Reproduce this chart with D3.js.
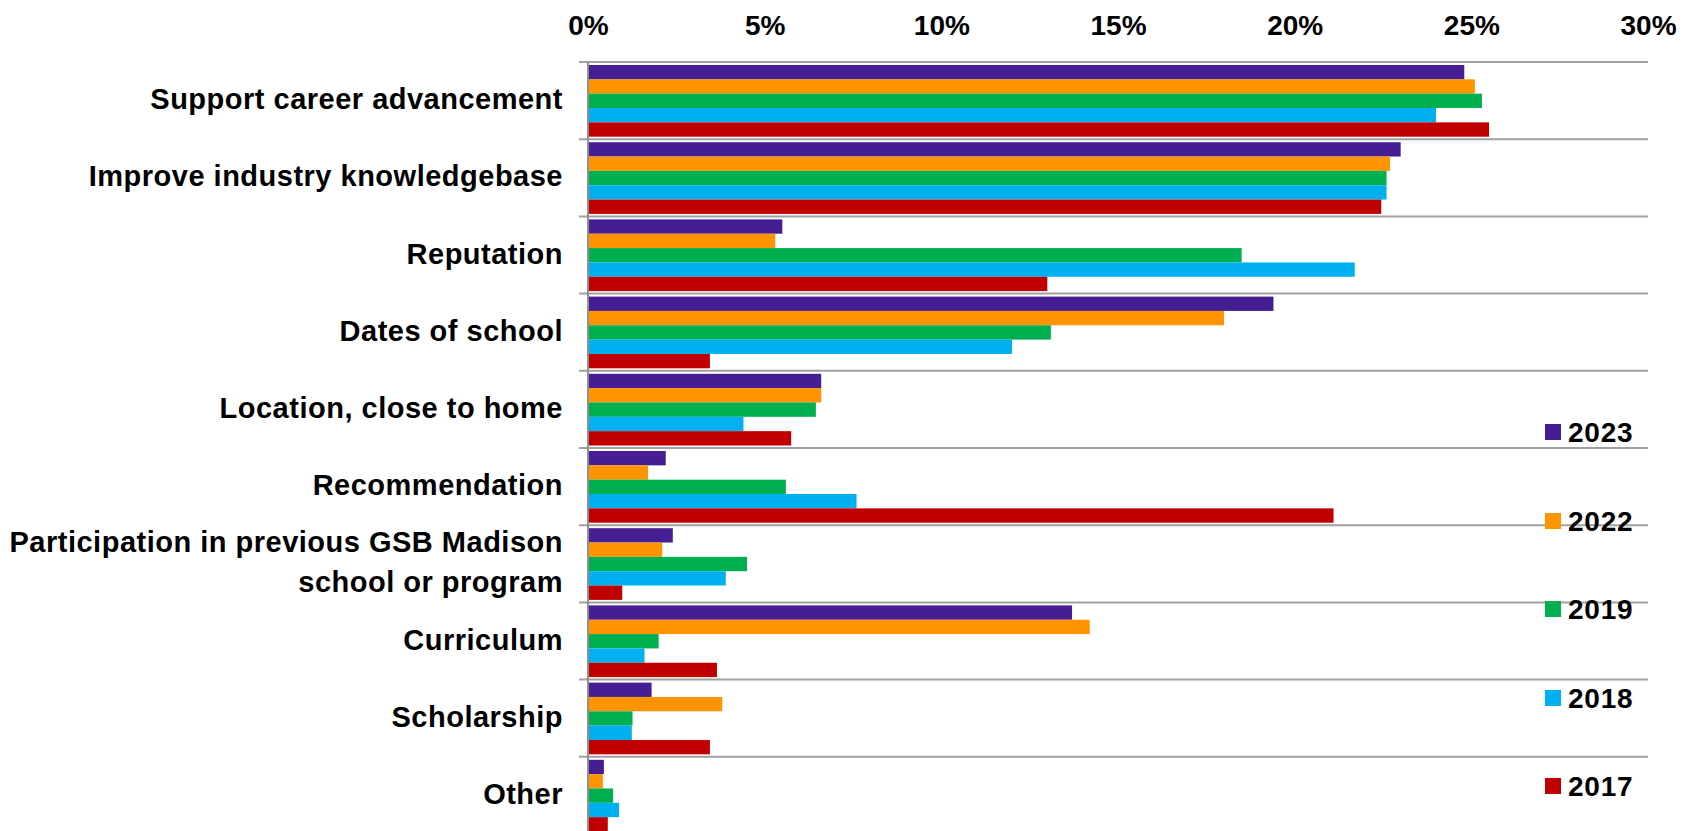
<!DOCTYPE html>
<html>
<head>
<meta charset="utf-8">
<script src="https://cdn.jsdelivr.net/npm/d3@7"></script>
<style>
  html, body { margin: 0; padding: 0; background: #fff; overflow: hidden; }
  svg { display: block; font-family: "Liberation Sans", Arial, sans-serif; font-weight: bold; }
</style>
</head>
<body>
<svg id="chart" width="1696" height="831"></svg>
<script>
// ---- data ----
const categories = [
  "Support career advancement",
  "Improve industry knowledgebase",
  "Reputation",
  "Dates of school",
  "Location, close to home",
  "Recommendation",
  "Participation in previous GSB Madison|school or program",
  "Curriculum",
  "Scholarship",
  "Other"
];
const seriesNames = ["2023", "2022", "2019", "2018", "2017"];
const seriesColors = ["#451e93", "#ff9300", "#00b050", "#00b0f0", "#c00000"];
const v2023 = [24.8, 23.0, 5.5, 19.4, 6.6, 2.2, 2.4, 13.7, 1.8, 0.45];
const v2022 = [25.1, 22.7, 5.3, 18.0, 6.6, 1.7, 2.1, 14.2, 3.8, 0.42];
const v2019 = [25.3, 22.6, 18.5, 13.1, 6.45, 5.6, 4.5, 2.0, 1.26, 0.71];
const v2018 = [24.0, 22.6, 21.7, 12.0, 4.4, 7.6, 3.9, 1.6, 1.24, 0.88];
const v2017 = [25.5, 22.45, 13.0, 3.45, 5.75, 21.1, 0.97, 3.65, 3.45, 0.56];
const xTicks = [0, 5, 10, 15, 20, 25, 30];

const seriesValues = [v2023, v2022, v2019, v2018, v2017];

// ---- layout ----
const svg = d3.select("#chart");
const x = d3.scaleLinear().domain([0, 30]).range([588, 1648]);
const y = d3.scaleBand().domain(categories).range([62, 834]).paddingInner(0).paddingOuter(0);
const inner = d3.scaleBand().domain(seriesNames)
  .range([3, y.bandwidth() - 2.5]).paddingInner(0);
const color = d3.scaleOrdinal().domain(seriesNames).range(seriesColors);

// separators / gridlines
const bounds = categories.map(c => y(c)).concat([y(categories[categories.length - 1]) + y.bandwidth()]);
svg.append("g").selectAll("line").data(bounds).join("line")
  .attr("x1", x(0) - 9).attr("x2", x(30))
  .attr("y1", d => d).attr("y2", d => d)
  .attr("stroke", "#a0a0a0").attr("stroke-width", 2);

// bars
const rows = [];
categories.forEach((c, i) => {
  seriesNames.forEach((s, j) => rows.push({ cat: c, series: s, value: seriesValues[j][i] }));
});
svg.append("g").selectAll("rect").data(rows).join("rect")
  .attr("x", x(0))
  .attr("y", d => y(d.cat) + inner(d.series))
  .attr("width", d => x(d.value) - x(0))
  .attr("height", inner.bandwidth())
  .attr("fill", d => color(d.series));

// vertical axis line
svg.append("line")
  .attr("x1", x(0)).attr("x2", x(0))
  .attr("y1", y.range()[0]).attr("y2", y.range()[1])
  .attr("stroke", "#909090").attr("stroke-width", 2);

// top axis labels
const xAxis = d3.axisTop(x).tickValues(xTicks).tickSize(0).tickPadding(0)
  .tickFormat(d => d + "%");
const gx = svg.append("g").attr("transform", "translate(0,35)").call(xAxis);
gx.select(".domain").remove();
gx.selectAll("text")
  .attr("font-family", "'Liberation Sans', Arial, sans-serif")
  .attr("font-weight", "bold")
  .attr("font-size", 28)
  .attr("fill", "#000");

// category labels
const lab = svg.append("g").selectAll("text").data(categories).join("text")
  .attr("text-anchor", "end")
  .attr("font-size", 29)
  .attr("letter-spacing", 0.5)
  .attr("fill", "#000")
  .attr("transform", d => `translate(563, ${y(d) + y.bandwidth() / 2 - 2})`);
lab.each(function(d) {
  const lines = d.split("|");
  const t = d3.select(this);
  const lh = 40;
  lines.forEach((ln, k) => {
    t.append("tspan")
      .attr("x", 0)
      .attr("y", (k - (lines.length - 1) / 2) * lh + 10.5)
      .text(ln);
  });
});

// legend
const legendY = [432, 521, 609, 698, 786];
const lg = svg.append("g").selectAll("g").data(seriesNames).join("g")
  .attr("transform", (d, i) => `translate(1545, ${legendY[i]})`);
lg.append("rect").attr("x", 0).attr("y", -8).attr("width", 16).attr("height", 16)
  .attr("fill", d => color(d));
lg.append("text").attr("x", 23).attr("y", 10.3)
  .attr("font-size", 28).attr("letter-spacing", 0.8).attr("fill", "#000")
  .text(d => d);
</script>
</body>
</html>
